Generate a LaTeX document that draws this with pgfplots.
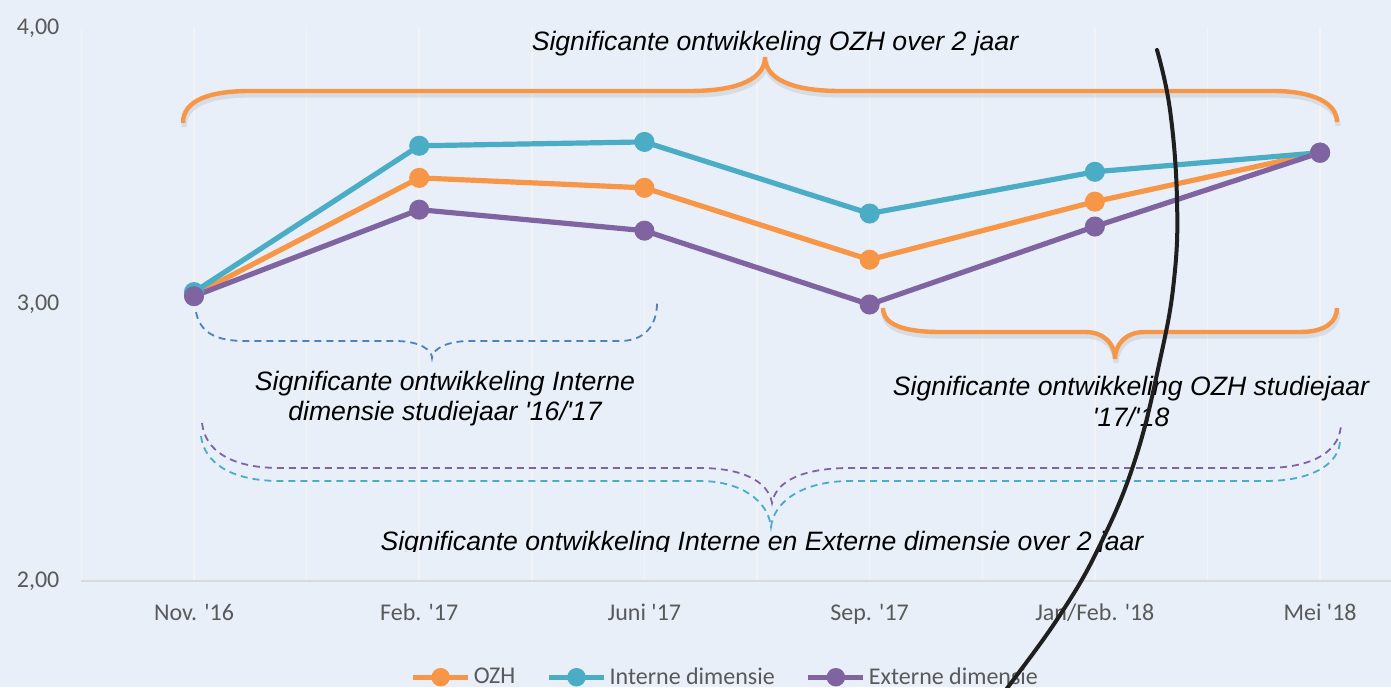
\documentclass[border=0pt]{standalone}
\usepackage{fontspec}
\setmainfont{Carlito}
\newfontfamily\annotfont{Liberation Sans}
\usepackage{pgfplots}
\pgfplotsset{compat=1.18}
\definecolor{bg}{RGB}{232,239,248}
\definecolor{ozh}{RGB}{247,150,70}
\definecolor{intern}{RGB}{75,172,198}
\definecolor{extern}{RGB}{128,100,162}
\definecolor{steel}{RGB}{79,129,189}
\definecolor{tickgray}{RGB}{89,89,89}
\definecolor{gridc}{RGB}{243,243,243}
\definecolor{axisc}{RGB}{217,217,217}
\newcommand{\q}{\textquotesingle}
\begin{document}
\begin{tikzpicture}
\useasboundingbox (0,0) rectangle (695.5pt,343.5pt);
\fill[bg] (0,0) rectangle (695.5pt,343.5pt);
\begin{axis}[
  at={(40.7pt,53pt)}, anchor=south west,
  scale only axis, width=654.8pt, height=276.5pt,
  xmin=-0.5, xmax=5.315, ymin=2, ymax=4,
  xtick={0,...,5},
  xticklabels={Nov. \q16, Feb. \q17, Juni \q17, Sep. \q17, Jan/Feb. \q18, Mei \q18},
  minor xtick={-0.5,0.5,1.5,2.5,3.5,4.5},
  ytick={2,3,4}, yticklabels={{2,00},{3,00},{4,00}},
  xmajorgrids, xminorgrids,
  major grid style={gridc, line width=0.75pt},
  minor grid style={gridc, line width=0.75pt},
  axis line style={draw=none},
  tick style={draw=none},
  ticklabel style={font=\fontsize{12}{14}\selectfont, text=tickgray},
  yticklabel style={xshift=-7.5pt},
  xticklabel style={yshift=-8pt},
  clip=false,
  legend columns=-1,
  legend style={at={(0.492,-0.174)}, anchor=center, draw=none, fill=none,
    font=\fontsize{12}{14}\selectfont, text=tickgray, inner sep=0pt,
    nodes={inner sep=1.5pt},
    /tikz/every even column/.append style={column sep=14pt}},
  legend image code/.code={\draw[mark repeat=2, mark phase=2, mark size=3.3pt] plot coordinates {(0pt,0pt) (13.75pt,0pt) (27.5pt,0pt)};},
  every axis plot/.append style={line width=2.6pt, mark=*, mark size=3.7pt, mark options={solid}},
]
\draw[axisc, line width=0.75pt] (axis cs:-0.5,2) -- (axis cs:5.315,2);
\addplot[ozh] coordinates {(0,3.035) (1,3.458) (2,3.422) (3,3.162) (4,3.372) (5,3.549)};
\addlegendentry{OZH}
\addplot[intern] coordinates {(0,3.045) (1,3.574) (2,3.588) (3,3.329) (4,3.480) (5,3.549)};
\addlegendentry{Interne dimensie}
\addplot[extern] coordinates {(0,3.03) (1,3.343) (2,3.267) (3,3.0) (4,3.282) (5,3.549)};
\addlegendentry{Externe dimensie}
\end{axis}
\begin{scope}[x=0.5pt, y=-0.5pt, shift={(0pt,343.5pt)}]
  % top orange brace
  \def\topbrace{(183,123) .. controls (183,100) and (210,91) .. (250,91) -- (690,91) .. controls (740,91) and (765,78) .. (765,57) .. controls (765,78) and (790,91) .. (840,91) -- (1273,91) .. controls (1313,91) and (1337,103) .. (1337,122)}
  \draw[black, opacity=0.08, line width=2.6pt, shift={(1,4)}] \topbrace;
  \draw[ozh, line width=2.2pt] \topbrace;
  % right orange brace
  \def\rbrace{(883,308) .. controls (883,325) and (905,332) .. (940,332) -- (1085,332) .. controls (1105,332) and (1115,345) .. (1115,359) .. controls (1115,345) and (1125,332) .. (1145,332) -- (1300,332) .. controls (1325,332) and (1337,322) .. (1337,308)}
  \draw[black, opacity=0.08, line width=2.6pt, shift={(1,4)}] \rbrace;
  \draw[ozh, line width=2.2pt] \rbrace;
  % blue dashed brace
  \draw[steel, line width=0.9pt, dash pattern=on 3.5pt off 2.5pt] (196,312) .. controls (200,332) and (215,341) .. (245,341) -- (395,341) .. controls (420,341) and (432,350) .. (432,358) .. controls (432,350) and (445,341) .. (470,341) -- (620,341) .. controls (645,341) and (657,325) .. (657,303);
  % purple and teal dashed braces
  \draw[extern, line width=0.9pt, dash pattern=on 3.5pt off 2.5pt] (202,423) .. controls (205,450) and (230,468) .. (280,468) -- (700,468) .. controls (740,468) and (768,480) .. (772,503) .. controls (776,480) and (805,468) .. (850,468) -- (1265,468) .. controls (1315,468) and (1341,450) .. (1341,423);
  \draw[intern, line width=0.9pt, dash pattern=on 3.5pt off 2.5pt] (201,436) .. controls (204,462) and (230,481) .. (280,481) -- (700,481) .. controls (740,481) and (768,500) .. (771,527) .. controls (774,500) and (805,481) .. (850,481) -- (1265,481) .. controls (1315,481) and (1340,462) .. (1340,440);
  % texts
  \tikzset{annot/.style={anchor=base, inner sep=0pt, font=\annotfont\itshape\fontsize{13.3}{16}\selectfont}}
  \node[annot] at (775,51) {Significante ontwikkeling OZH over 2 jaar};
  \node[annot] at (445,390) {Significante ontwikkeling Interne};
  \node[annot] at (445,420) {dimensie studiejaar \q16/\q17};
  \node[annot] at (1131,395) {Significante ontwikkeling OZH studiejaar};
  \node[annot] at (1131,426) {\q17/\q18};
  \begin{scope}
    \clip (0,0) rectangle (1391,551);
    \node[annot] at (762,550) {Significante ontwikkeling Interne en Externe dimensie over 2 jaar};
  \end{scope}
  % black hand-drawn curve
  \draw[black!88, line width=2pt, line cap=round] plot[smooth, tension=0.7] coordinates {(1157,50) (1170,110) (1177,200) (1174,280) (1160,360) (1135,460) (1100,545) (1060,615) (1008,687) (1000,697)};
\end{scope}
\end{tikzpicture}
\end{document}
